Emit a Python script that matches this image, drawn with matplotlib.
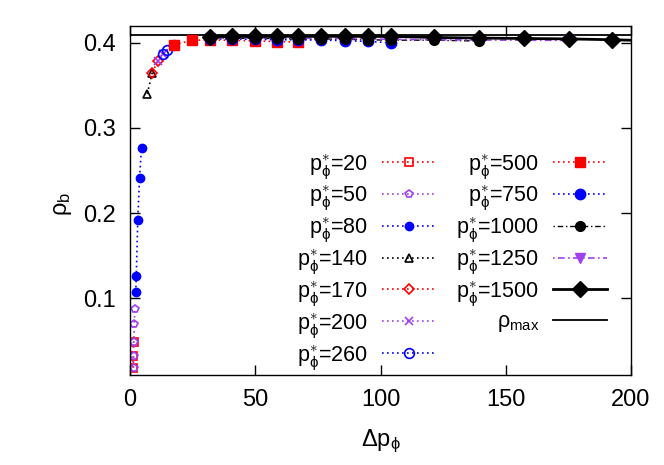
import matplotlib
matplotlib.use('Agg')
import matplotlib.pyplot as plt
import numpy as np

plt.rcParams['font.family'] = ['Liberation Sans', 'DejaVu Sans']
plt.rcParams['mathtext.fontset'] = 'custom'
plt.rcParams['mathtext.rm'] = 'Liberation Sans'
plt.rcParams['mathtext.it'] = 'Liberation Sans'
plt.rcParams['mathtext.bf'] = 'Liberation Sans:bold'

# data
x20 = [1.2, 1.3, 1.4]
y20 = [0.0186, 0.0322, 0.0487]
x50 = [1.4, 1.4, 1.5, 1.7, 1.9]
y50 = [0.0186, 0.0322, 0.0487, 0.0697, 0.087]
x80 = [2.3, 2.5, 3.1, 3.8, 4.6]
y80 = [0.107, 0.126, 0.192, 0.241, 0.277]
x140 = [6.9, 8.9]
y140 = [0.340, 0.365]
x170 = [8.9, 11.0]
y170 = [0.365, 0.378]
x200 = [11.0, 13.0]
y200 = [0.378, 0.387]
x260 = [13.0, 14.6, 17.6]
y260 = [0.387, 0.391, 0.397]
x500 = [17.6, 24.6, 31.9, 40.8, 49.9, 58.6, 67.2]
y500 = [0.3977, 0.4027, 0.4035, 0.4027, 0.4023, 0.4012, 0.4010]
x750 = [31.9, 40.8, 49.9, 58.6, 67.2, 76.2, 85.8, 94.9, 104.2]
y750 = [0.4045, 0.4045, 0.4040, 0.4035, 0.4035, 0.4030, 0.4025, 0.4015, 0.4000]
x1000 = [31.9, 40.8, 49.9, 58.6, 67.2, 76.2, 85.8, 94.9, 104.2, 121.5, 139.4]
y1000 = [0.4055, 0.4055, 0.4050, 0.4050, 0.4045, 0.4045, 0.4040, 0.4035, 0.4030, 0.4030, 0.4020]
x1250 = [31.9, 40.8, 49.9, 58.6, 67.2, 76.2, 85.8, 94.9, 104.2, 121.5, 139.4, 157.4, 175.2]
y1250 = [0.4060, 0.4060, 0.4058, 0.4055, 0.4055, 0.4050, 0.4050, 0.4045, 0.4040, 0.4035, 0.4032, 0.4030, 0.4028]
x1500 = [31.9, 40.8, 49.9, 58.6, 67.2, 76.2, 85.8, 94.9, 104.2, 121.5, 139.4, 157.4, 175.2, 192.5, 210.0]
y1500 = [0.4072, 0.4074, 0.4075, 0.4075, 0.4075, 0.4075, 0.4075, 0.4074, 0.4074, 0.4062, 0.4055, 0.4050, 0.4045, 0.4035, 0.4022]
rho_max = 0.4094

red = '#ff0000'
violet = '#a040f0'
blue = '#0000ff'
black = '#000000'

fig = plt.figure(figsize=(6.64, 4.65), dpi=100)
ax = fig.add_axes([130/664, 1-375/465, 501/664, 349.3/465])

dot = (0, (1, 2))
dd = (0, (1, 2, 4, 2))


def lab(p):
    return r'p$^{\ast}_{\phi}$=' + str(p)


ax.plot(x20, y20, ls=dot, color=red, marker='s', ms=6, mfc='none', mew=1.2, lw=1.2, label=lab(20))
ax.plot(x50, y50, ls=dot, color=violet, marker='p', ms=6, mfc='none', mew=1.2, lw=1.2, label=lab(50))
ax.plot(x80, y80, ls=dot, color=blue, marker='o', ms=6, lw=1.2, label=lab(80))
ax.plot(x140, y140, ls=dot, color=black, marker='^', ms=6, mfc='none', mew=1.2, lw=1.2, label=lab(140))
ax.plot(x170, y170, ls=dot, color=red, marker='D', ms=5, mfc='none', mew=1.2, lw=1.2, label=lab(170))
ax.plot(x200, y200, ls=dot, color=violet, marker='x', ms=6, mew=1.2, lw=1.2, label=lab(200))
ax.plot(x260, y260, ls=dot, color=blue, marker='o', ms=7, mfc='none', mew=1.2, lw=1.2, label=lab(260))
ax.plot(x500, y500, ls=dot, color=red, marker='s', ms=7.5, lw=1.2, label=lab(500))
ax.plot(x750, y750, ls=dot, color=blue, marker='o', ms=7.5, lw=1.2, label=lab(750))
ax.plot(x1000, y1000, ls=dd, color=black, marker='o', ms=7, lw=1.0, label=lab(1000))
ax.plot(x1250, y1250, ls=dd, color=violet, marker='v', ms=7, lw=1.2, label=lab(1250))
ax.plot(x1500, y1500, ls='-', color=black, marker='D', ms=8, lw=2, label=lab(1500))
ax.axhline(rho_max, color=black, lw=1.3, label=r'$\rho_{\rm max}$', zorder=1)

ax.set_xlim(0, 200)
ax.set_ylim(0.01, 0.42)
ax.set_xticks([0, 50, 100, 150, 200])
ax.set_yticks([0.1, 0.2, 0.3, 0.4])
ax.set_yticklabels(['0.1', '0.2', '0.3', '0.4'])
ax.tick_params(direction='in', length=7, width=1, top=True, right=True, labelsize=17, pad=10)
for s in ax.spines.values():
    s.set_linewidth(1)

ax.set_xlabel(r'$\Delta$p$_{\phi}$', fontsize=17)
ax.set_ylabel(r'$\rho_{\rm b}$', fontsize=17)
ax.xaxis.set_label_coords(0.5, -0.15)
ax.yaxis.set_label_coords(-0.112, 0.49)

leg = ax.legend(ncol=2, markerfirst=False, frameon=False, fontsize=15.5,
                handlelength=2.5, columnspacing=0.95, labelspacing=0.15,
                handletextpad=0.65, borderpad=0, borderaxespad=0,
                loc='upper right', bbox_to_anchor=(607/664, 1-152/465),
                bbox_transform=fig.transFigure)

fig.savefig('out.png', dpi=100)
